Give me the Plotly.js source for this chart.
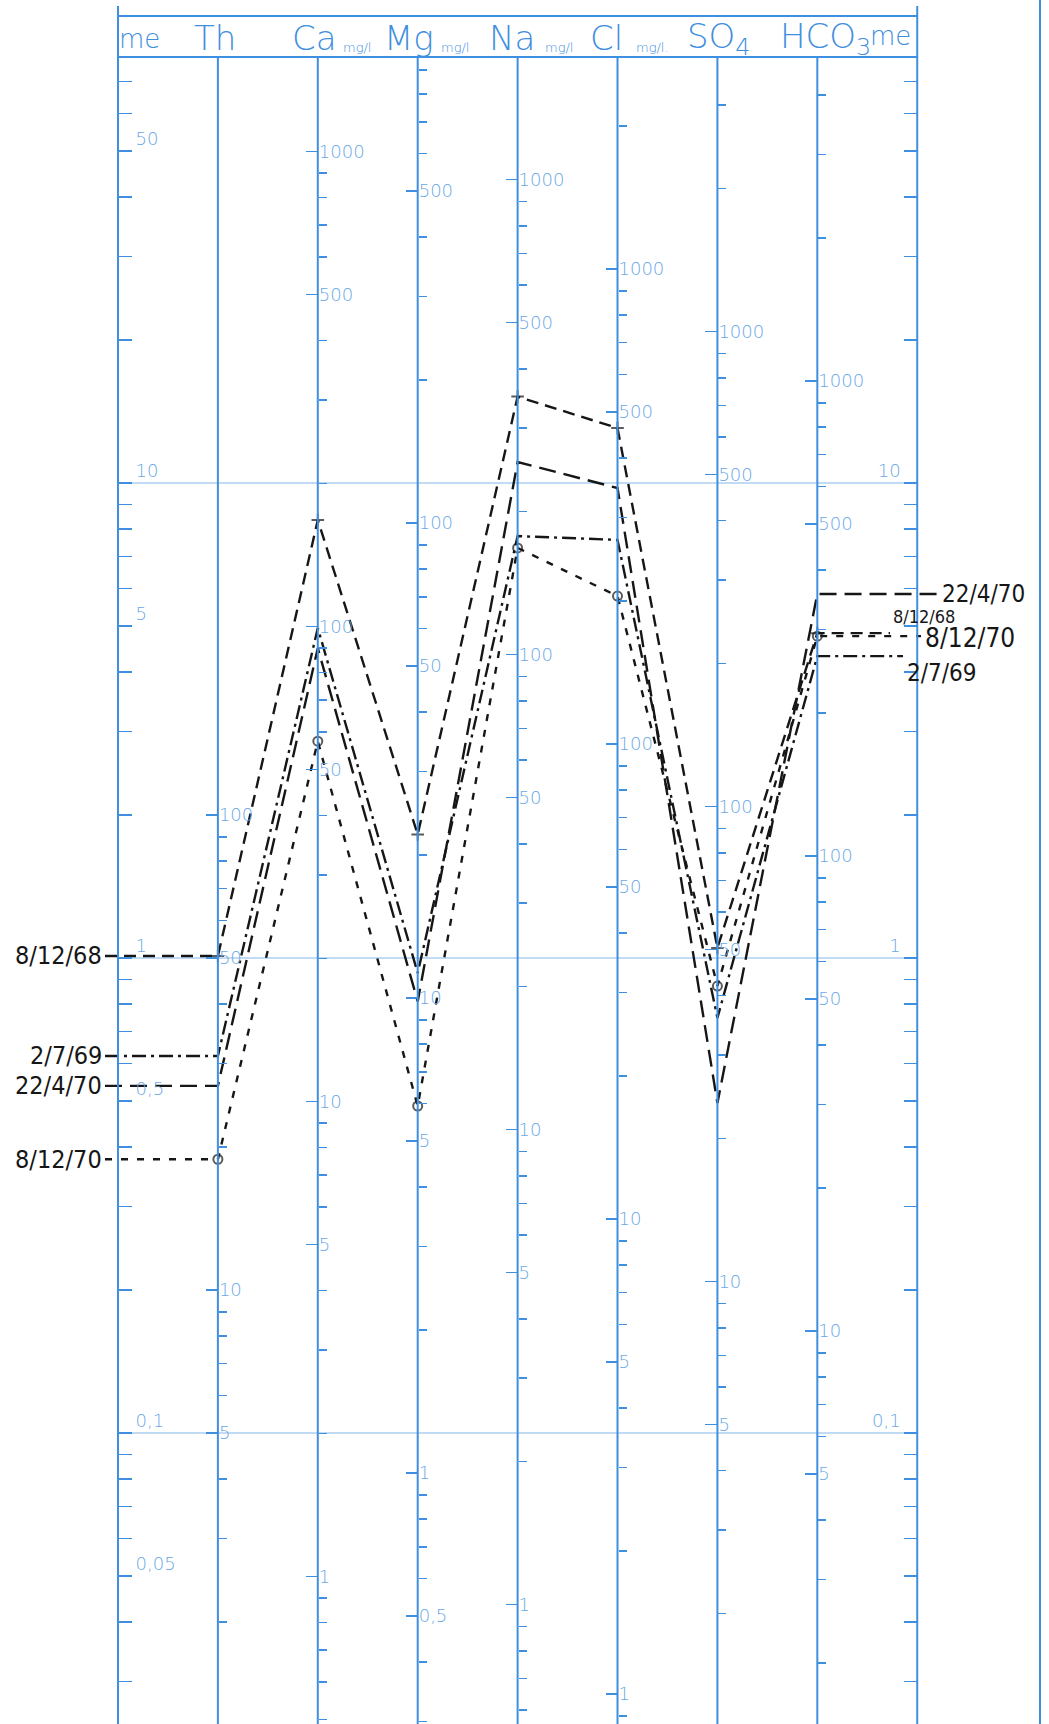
<!DOCTYPE html>
<html><head><meta charset="utf-8">
<script src="https://cdn.plot.ly/plotly-3.0.1.min.js"></script>
<style>html,body{margin:0;padding:0;background:#fff}</style>
</head><body><div id="chart" style="width:1049px;height:1724px"></div>
<script>
// ---------- data (values in meq/l) ----------
const columns = ['Th','Ca','Mg','Na','Cl','SO4','HCO3'];
const samples = ['8/12/68','2/7/69','22/4/70','8/12/70'];
const v_8_12_68 = [1.01, 8.36, 1.82, 15.2, 13.05, 1.05, 4.83];
const v_2_7_69  = [0.622, 4.95, 0.93, 7.73, 7.59, 0.748, 4.32];
const v_22_4_70 = [0.538, 4.49, 0.81, 11.07, 9.76, 0.495, 5.84];
const v_8_12_70 = [0.377, 2.86, 0.488, 7.3, 5.78, 0.873, 4.76];
// mg per meq for each column scale (Th as mg/l CaCO3)
const eqWeights = [50, 20.04, 12.15, 22.99, 35.45, 48.03, 61.02];
// tick labels
const meLeftTicks = [0.05, 0.1, 0.5, 1, 5, 10, 50];
const meLeftText  = ['0,05', '0,1', '0,5', '1', '5', '10', '50'];
const meRightTicks = [0.1, 1, 10];
const meRightText  = ['0,1', '1', '10'];
const thTicks   = [5, 10, 50, 100];
const caTicks   = [1, 5, 10, 50, 100, 500, 1000];
const mgTicks   = [0.5, 1, 5, 10, 50, 100, 500];
const naTicks   = [1, 5, 10, 50, 100, 500, 1000];
const clTicks   = [1, 5, 10, 50, 100, 500, 1000];
const so4Ticks  = [5, 10, 50, 100, 500, 1000];
const hco3Ticks = [5, 10, 50, 100, 500, 1000];
const columnTicks = [thTicks, caTicks, mgTicks, naTicks, clTicks, so4Ticks, hco3Ticks];
const gridValues = [10, 1, 0.1];

// ---------- geometry / style ----------
const W = 1049, H = 1724;
const X0 = -1.181, X1 = 9.319;              // x index range (0 = left me axis, 8 = right me axis)
const Y10 = 483, DEC = 475;                 // pixel of 10 meq, pixels per decade
const yHi = 1 + Y10 / DEC, yLo = 1 - (H - Y10) / DEC;
const BLUE = '#3f8fe0', LABEL = '#6aa8e6', INK = '#161616';
const px2idx = p => p / W * (X1 - X0) + X0;
const idx2paper = i => (i - X0) / (X1 - X0);
const py2paper = p => 1 - p / H;
const HEAD_TOP = 16, HEAD_BOT = 57;

function minorVals(vmin, vmax, exclude) {
  const out = [];
  for (let e = Math.floor(Math.log10(vmin)); e <= Math.ceil(Math.log10(vmax)); e++) {
    for (let k = 1; k <= 9; k++) {
      const v = +(k * Math.pow(10, e)).toPrecision(6);
      if (v >= vmin && v <= vmax && !exclude.some(t => Math.abs(t - v) / v < 1e-6)) out.push(v);
    }
  }
  return out;
}
const tickFont = {family: 'DejaVu Sans', size: 18, color: LABEL, weight: 200};
function freeAxis(idx, w, tickvals, ticktext, minor, side, majTicks, majLen, minTicks, minLen, shift) {
  return {
    type: 'log', overlaying: 'y', anchor: 'free', position: idx2paper(idx), side: side,
    range: [yLo + Math.log10(w), yHi + Math.log10(w)], fixedrange: true,
    tickmode: 'array', tickvals: tickvals, ticktext: ticktext,
    ticks: majTicks, ticklen: majLen, tickwidth: 1.5, tickcolor: BLUE,
    showline: false, showgrid: false, zeroline: false,
    tickfont: tickFont, ticklabelshift: shift || 0,
    minor: {tickmode: 'array', tickvals: minor, ticks: minTicks, ticklen: minLen, tickwidth: 1.5,
            tickcolor: BLUE, showgrid: false}
  };
}

const layout = {
  width: W, height: H, margin: {l: 0, r: 0, t: 0, b: 0},
  paper_bgcolor: '#ffffff', plot_bgcolor: '#ffffff', showlegend: false,
  xaxis: {range: [X0, X1], visible: false, fixedrange: true},
  yaxis: {type: 'log', range: [yLo, yHi], visible: false, fixedrange: true},
  shapes: [], annotations: []
};
const traces = [];

// left and right meq axes
const meMin = Math.pow(10, yLo), meMax = 75;
layout.yaxis2 = freeAxis(0, 1, meLeftTicks, meLeftText, minorVals(meMin, meMax, meLeftTicks),
                         'right', 'outside', 13, 'outside', 13, -12);
layout.yaxis10 = freeAxis(8, 1, meRightTicks, meRightText, minorVals(meMin, meMax, meRightTicks),
                          'left', 'outside', 13, 'outside', 13, -12);
// column axes in mg/l
const colTop = Math.pow(10, 1 + (Y10 - 62) / DEC);
columns.forEach((c, i) => {
  const w = eqWeights[i];
  const vmax = c === 'Th' ? 100 : colTop * w;
  const tv = columnTicks[i];
  const tt = tv.map(v => String(v).replace('.', ','));
  layout['yaxis' + (i + 3)] = freeAxis(i + 1, w, tv, tt, minorVals(meMin * w, vmax, tv),
                                       'right', 'inside', 12, 'outside', 8, 0);
});
// anchor traces so every free axis is drawn
for (let k = 2; k <= 10; k++) {
  traces.push({x: [0], y: [1], yaxis: 'y' + k, mode: 'markers', marker: {opacity: 0},
               hoverinfo: 'skip', showlegend: false});
}

// frame lines
const vline = (x0, p0, p1, xref) => ({type: 'line', xref: xref || 'x', yref: 'paper', x0: x0, x1: x0,
  y0: py2paper(p0), y1: py2paper(p1), line: {color: BLUE, width: 2}});
layout.shapes.push(vline(0, 6, H), vline(8, 6, H), vline(1040 / W, 0, H, 'paper'));
for (let i = 1; i <= 7; i++) layout.shapes.push(vline(i, HEAD_BOT, H));
[HEAD_TOP, HEAD_BOT].forEach(p => layout.shapes.push({type: 'line', xref: 'x', yref: 'paper',
  x0: 0, x1: 8, y0: py2paper(p), y1: py2paper(p), line: {color: BLUE, width: 2}}));

// horizontal decade lines
gridValues.forEach(v => traces.push({x: [0, 8], y: [v, v], mode: 'lines',
  line: {color: 'rgba(95,160,225,0.75)', width: 1.2}, hoverinfo: 'skip', showlegend: false}));

// header
const headFont = {family: 'DejaVu Sans', size: 34, color: BLUE, weight: 200};
const smallFont = {family: 'DejaVu Sans', size: 13, color: BLUE, weight: 200};
const head = [
  ['me', 139, 26, 39], ['Th', 215, 34, 38], ['Ca', 314, 34, 38], ['Mg', 409, 34, 38],
  ['Na', 512, 34, 38], ['Cl', 606, 34, 38], ['SO<sub>4</sub>', 718, 34, 38],
  ['HCO<sub>3</sub>', 825, 34, 38], ['me', 890, 26, 36]
];
head.forEach(h => layout.annotations.push({xref: 'paper', yref: 'paper', x: h[1] / W, y: py2paper(h[3]),
  text: h[0], showarrow: false, xanchor: 'center', yanchor: 'middle',
  font: Object.assign({}, headFont, {size: h[2]})}));
[[357, 'mg/l'], [455, 'mg/l'], [559, 'mg/l'], [652, 'mg/l.']].forEach(m =>
  layout.annotations.push({xref: 'paper', yref: 'paper', x: m[0] / W, y: py2paper(47),
    text: m[1], showarrow: false, xanchor: 'center', yanchor: 'middle', font: smallFont}));

// samples
const series = [v_8_12_68, v_2_7_69, v_22_4_70, v_8_12_70];
const dashes = ['12px,7px', '14px,5px,3px,5px', '17px,8px', '7px,9px'];
const symbols = ['cross-thin-open', null, null, 'circle-open'];
const rightEnds = [890, 903, 938, 921];
const rightLabel = [[891, 17, 18], [905, -17, 24], [940, 0, 24], [923, -2, 26]];
const leftEnd = 105;
series.forEach((vals, s) => {
  const xs = [px2idx(leftEnd)].concat(columns.map((c, i) => i + 1), [px2idx(rightEnds[s])]);
  const ys = [vals[0]].concat(vals, [vals[vals.length - 1]]);
  const tr = {x: xs, y: ys, mode: symbols[s] ? 'lines+markers' : 'lines',
    line: {color: INK, width: 2.4, dash: dashes[s]}, hoverinfo: 'skip', showlegend: false, name: samples[s]};
  if (symbols[s]) tr.marker = {symbol: symbols[s], size: xs.map((_, k) => (k === 0 || k === xs.length - 1) ? 0 : 9),
    color: INK, line: {color: INK, width: 2}};
  traces.push(tr);
  layout.annotations.push({xref: 'x', yref: 'y', x: px2idx(leftEnd - 1), y: Math.log10(vals[0]),
    text: samples[s], showarrow: false, xanchor: 'right', yanchor: 'middle',
    font: {family: 'DejaVu Sans Condensed, DejaVu Sans', size: 25, color: INK}});
  const rl = rightLabel[s];
  layout.annotations.push({xref: 'x', yref: 'y', x: px2idx(rl[0]), y: Math.log10(vals[vals.length - 1]),
    yshift: rl[1], text: samples[s], showarrow: false, xanchor: 'left', yanchor: 'middle',
    font: {family: 'DejaVu Sans Condensed, DejaVu Sans', size: rl[2], color: INK}});
});

Plotly.newPlot('chart', traces, layout, {staticPlot: true, displayModeBar: false});
</script></body></html>
